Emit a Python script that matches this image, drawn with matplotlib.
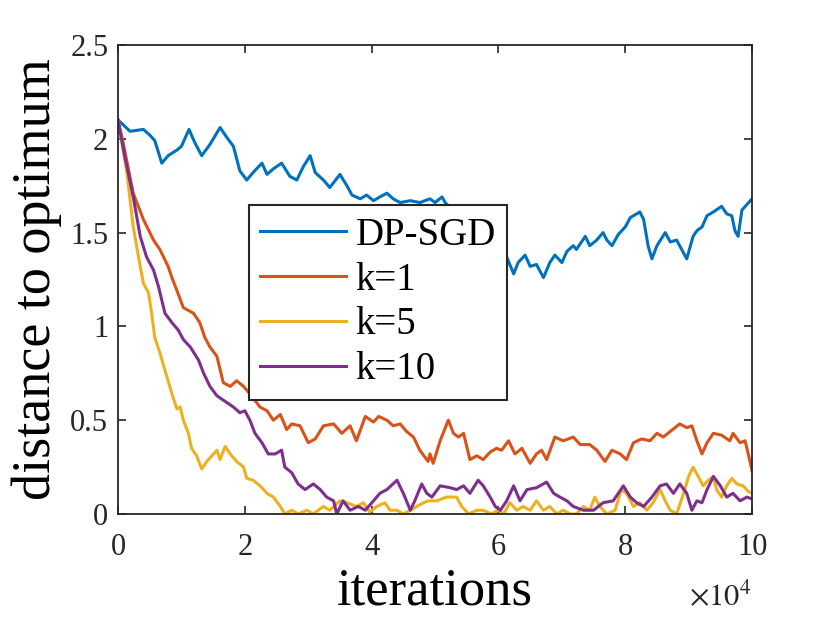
import matplotlib
matplotlib.use("Agg")
import matplotlib.pyplot as plt

# iterations are in units of 1e4 (axis shows x10^4)
dp_x = [0.00, 0.19, 0.40, 0.50, 0.58, 0.69, 0.79, 0.93, 1.00, 1.12, 1.21, 1.32, 1.45, 1.61,
        1.71, 1.82, 1.92, 2.03, 2.13, 2.27, 2.35, 2.45, 2.58, 2.71, 2.82, 2.92, 3.03, 3.11,
        3.24, 3.34, 3.50, 3.61, 3.69, 3.82, 3.92, 4.03, 4.13, 4.24, 4.34, 4.45, 4.61, 4.76,
        4.92, 5.00, 5.11, 5.16, 5.39, 5.71, 5.95, 6.13, 6.24, 6.31, 6.42, 6.50, 6.60, 6.71,
        6.81, 6.89, 7.00, 7.08, 7.18, 7.23, 7.37, 7.44, 7.55, 7.65, 7.71, 7.79, 7.89, 8.00,
        8.08, 8.23, 8.29, 8.36, 8.42, 8.50, 8.63, 8.71, 8.81, 8.97, 9.07, 9.13, 9.21, 9.29,
        9.39, 9.52, 9.60, 9.68, 9.73, 9.78, 9.84, 9.92, 10.00]
dp_y = [2.10, 2.04, 2.05, 2.02, 1.99, 1.87, 1.91, 1.94, 1.96, 2.05, 1.98, 1.91, 1.97, 2.06,
        2.01, 1.96, 1.83, 1.78, 1.82, 1.87, 1.81, 1.84, 1.87, 1.80, 1.78, 1.85, 1.91, 1.82,
        1.78, 1.74, 1.81, 1.75, 1.70, 1.68, 1.70, 1.67, 1.69, 1.71, 1.68, 1.66, 1.67, 1.66,
        1.68, 1.66, 1.69, 1.66, 1.58, 1.50, 1.42, 1.37, 1.28, 1.34, 1.38, 1.32, 1.33, 1.26,
        1.34, 1.38, 1.34, 1.40, 1.43, 1.41, 1.48, 1.43, 1.46, 1.50, 1.46, 1.43, 1.49, 1.53,
        1.58, 1.61, 1.57, 1.43, 1.36, 1.43, 1.50, 1.45, 1.46, 1.36, 1.48, 1.51, 1.53, 1.59,
        1.61, 1.64, 1.60, 1.59, 1.51, 1.48, 1.62, 1.65, 1.68]

k1_x = [0.00, 0.08, 0.24, 0.40, 0.56, 0.66, 0.79, 0.85, 0.93, 1.03, 1.19, 1.29, 1.37, 1.45,
        1.56, 1.66, 1.77, 1.87, 1.98, 2.08, 2.24, 2.35, 2.45, 2.56, 2.66, 2.74, 2.87, 3.00,
        3.11, 3.24, 3.40, 3.53, 3.66, 3.76, 3.90, 4.03, 4.11, 4.24, 4.34, 4.45, 4.55, 4.66,
        4.76, 4.89, 4.92, 4.97, 5.08, 5.21, 5.29, 5.37, 5.45, 5.55, 5.66, 5.76, 5.87, 5.97,
        6.05, 6.16, 6.26, 6.37, 6.50, 6.60, 6.68, 6.76, 6.89, 7.02, 7.18, 7.29, 7.44, 7.55,
        7.68, 7.79, 7.92, 8.02, 8.13, 8.26, 8.39, 8.50, 8.60, 8.71, 8.86, 8.97, 9.05, 9.13,
        9.21, 9.29, 9.39, 9.52, 9.65, 9.70, 9.81, 9.89, 9.94, 10.00]
k1_y = [2.10, 1.98, 1.71, 1.57, 1.46, 1.41, 1.32, 1.26, 1.19, 1.10, 1.07, 1.02, 0.94, 0.89,
        0.84, 0.70, 0.68, 0.71, 0.68, 0.64, 0.57, 0.55, 0.50, 0.53, 0.45, 0.48, 0.47, 0.38,
        0.40, 0.47, 0.48, 0.43, 0.47, 0.39, 0.52, 0.49, 0.52, 0.50, 0.47, 0.48, 0.44, 0.41,
        0.34, 0.28, 0.32, 0.27, 0.39, 0.50, 0.43, 0.41, 0.43, 0.29, 0.31, 0.29, 0.33, 0.35,
        0.34, 0.39, 0.32, 0.35, 0.27, 0.32, 0.34, 0.29, 0.41, 0.39, 0.41, 0.37, 0.37, 0.34,
        0.28, 0.34, 0.32, 0.29, 0.38, 0.40, 0.39, 0.43, 0.41, 0.44, 0.48, 0.46, 0.47, 0.39,
        0.32, 0.38, 0.43, 0.42, 0.39, 0.43, 0.38, 0.39, 0.32, 0.23]

k5_x = [0.00, 0.14, 0.24, 0.35, 0.40, 0.48, 0.53, 0.58, 0.66, 0.71, 0.79, 0.85, 0.93, 0.98,
        1.03, 1.11, 1.16, 1.24, 1.32, 1.40, 1.48, 1.56, 1.61, 1.69, 1.77, 1.87, 1.98, 2.03,
        2.13, 2.24, 2.35, 2.45, 2.56, 2.63, 2.74, 2.84, 2.98, 3.08, 3.24, 3.34, 3.50, 3.61,
        3.76, 3.87, 3.97, 4.08, 4.21, 4.29, 4.40, 4.50, 4.61, 4.71, 4.82, 4.89, 5.03, 5.18,
        5.34, 5.42, 5.53, 5.66, 5.76, 5.89, 6.00, 6.08, 6.18, 6.29, 6.39, 6.50, 6.60, 6.71,
        6.81, 6.92, 7.02, 7.13, 7.23, 7.34, 7.44, 7.52, 7.60, 7.71, 7.84, 7.94, 8.02, 8.13,
        8.23, 8.34, 8.44, 8.55, 8.63, 8.71, 8.81, 8.92, 9.00, 9.07, 9.15, 9.23, 9.31, 9.39,
        9.44, 9.52, 9.60, 9.68, 9.76, 9.86, 9.94, 10.00]
k5_y = [2.10, 1.82, 1.53, 1.32, 1.23, 1.18, 1.07, 0.94, 0.86, 0.80, 0.71, 0.64, 0.56, 0.57,
        0.50, 0.43, 0.35, 0.31, 0.24, 0.28, 0.31, 0.34, 0.29, 0.36, 0.32, 0.28, 0.25, 0.19,
        0.18, 0.15, 0.11, 0.09, 0.04, 0.00, 0.02, 0.00, 0.02, 0.00, 0.04, 0.02, 0.07, 0.06,
        0.04, 0.06, 0.01, 0.04, 0.06, 0.02, 0.02, 0.00, 0.02, 0.04, 0.06, 0.07, 0.07, 0.09,
        0.09, 0.04, 0.00, 0.02, 0.02, 0.00, 0.02, 0.00, 0.06, 0.02, 0.04, 0.02, 0.07, 0.02,
        0.04, 0.00, 0.02, 0.00, 0.00, 0.04, 0.02, 0.09, 0.04, 0.00, 0.02, 0.13, 0.11, 0.04,
        0.06, 0.02, 0.06, 0.13, 0.07, 0.02, 0.00, 0.11, 0.20, 0.25, 0.20, 0.15, 0.18, 0.20,
        0.13, 0.09, 0.15, 0.19, 0.16, 0.15, 0.12, 0.11]

k10_x = [0.00, 0.11, 0.24, 0.35, 0.45, 0.56, 0.64, 0.69, 0.74, 0.85, 0.95, 1.03, 1.14, 1.27,
         1.35, 1.45, 1.56, 1.69, 1.82, 1.92, 2.00, 2.08, 2.16, 2.27, 2.37, 2.48, 2.58, 2.63,
         2.74, 2.84, 2.95, 3.08, 3.19, 3.29, 3.40, 3.45, 3.55, 3.66, 3.79, 3.90, 4.03, 4.13,
         4.24, 4.40, 4.50, 4.61, 4.68, 4.79, 4.87, 4.95, 5.08, 5.24, 5.34, 5.45, 5.55, 5.68,
         5.76, 5.87, 5.95, 6.03, 6.13, 6.24, 6.34, 6.45, 6.60, 6.76, 6.87, 6.97, 7.08, 7.18,
         7.34, 7.50, 7.65, 7.81, 7.97, 8.08, 8.18, 8.29, 8.42, 8.55, 8.65, 8.76, 8.86, 8.97,
         9.05, 9.13, 9.21, 9.29, 9.39, 9.50, 9.60, 9.70, 9.81, 9.92, 10.00]
k10_y = [2.10, 1.90, 1.69, 1.48, 1.37, 1.30, 1.21, 1.14, 1.07, 1.02, 0.98, 0.93, 0.89, 0.82,
         0.75, 0.68, 0.63, 0.60, 0.57, 0.54, 0.55, 0.50, 0.43, 0.38, 0.32, 0.32, 0.34, 0.25,
         0.22, 0.16, 0.13, 0.16, 0.13, 0.09, 0.07, 0.00, 0.07, 0.02, 0.04, 0.02, 0.07, 0.11,
         0.13, 0.18, 0.11, 0.02, 0.07, 0.16, 0.11, 0.09, 0.15, 0.14, 0.13, 0.15, 0.11, 0.18,
         0.15, 0.09, 0.04, 0.02, 0.07, 0.15, 0.07, 0.13, 0.14, 0.17, 0.11, 0.09, 0.07, 0.04,
         0.02, 0.02, 0.06, 0.07, 0.15, 0.09, 0.06, 0.04, 0.09, 0.15, 0.16, 0.11, 0.16, 0.11,
         0.02, 0.07, 0.06, 0.13, 0.20, 0.15, 0.09, 0.11, 0.07, 0.09, 0.08]

labels = ["DP-SGD", "k=1", "k=5", "k=10"]
colors = ["#0072BD", "#D95319", "#EDB120", "#7E2F8E"]
x_ticks = [0, 2, 4, 6, 8, 10]
y_ticks = [0, 0.5, 1, 1.5, 2, 2.5]
y_tick_labels = ["0", "0.5", "1", "1.5", "2", "2.5"]

plt.rcParams["font.family"] = "serif"
plt.rcParams["font.serif"] = ["Liberation Serif", "DejaVu Serif"]
plt.rcParams["mathtext.fontset"] = "stix"

fig = plt.figure(figsize=(8.3, 6.23), dpi=100)
ax = fig.add_axes([0.1422, 0.175, 0.7639, 0.7528])

series = [(dp_x, dp_y), (k1_x, k1_y), (k5_x, k5_y), (k10_x, k10_y)]
for (xs, ys), lab, col in zip(series, labels, colors):
    ax.plot(xs, ys, color=col, linewidth=2.2, label=lab)

ax.set_xlim(0, 10)
ax.set_ylim(0, 2.5)
ax.set_xticks(x_ticks)
ax.set_yticks(y_ticks)
ax.set_yticklabels(y_tick_labels)

dark = "#262626"
for sp in ax.spines.values():
    sp.set_color(dark)
    sp.set_linewidth(1.3)
ax.tick_params(direction="in", length=6, width=1.2, colors=dark,
               labelsize=22, top=True, right=True)
ax.tick_params(axis="x", pad=14)
ax.tick_params(axis="y", pad=7)

ax.set_xlabel("iterations", fontsize=38, labelpad=4)
ax.set_ylabel("distance to optimum", fontsize=39, labelpad=6)

ax.text(1.0, -0.145, r"$\times 10^{4}$", transform=ax.transAxes,
        ha="right", va="top", fontsize=22, color=dark)

leg = ax.legend(loc="center", bbox_to_anchor=(0.41, 0.451), fontsize=28,
                fancybox=False, framealpha=1, edgecolor=dark,
                handlelength=2.2, handletextpad=0.25, labelspacing=0.2,
                borderpad=0.3, borderaxespad=0)
leg.get_frame().set_linewidth(1.5)

plt.savefig("out.png", dpi=100)
